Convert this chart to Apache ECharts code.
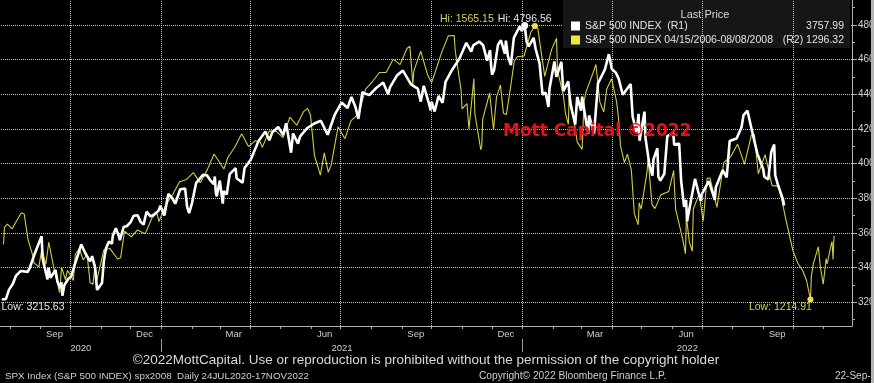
<!DOCTYPE html>
<html><head><meta charset="utf-8">
<script src="https://cdn.jsdelivr.net/npm/echarts@6/dist/echarts.min.js"></script>
<style>html,body{margin:0;padding:0;background:#000;overflow:hidden}#c{width:874px;height:383px}</style>
</head><body><div id="c"></div>
<script>
// ---------------- DATA ----------------
const WHITE_NAME = 'S&P 500 INDEX  (R1)';
const YELLOW_NAME = 'S&P 500 INDEX 04/15/2006-08/08/2008';

// S&P 500, 24 Jul 2020 - 22 Sep 2022 (R1)
const spxDates = [
'2020-07-24','2020-07-28','2020-07-31','2020-08-04','2020-08-07','2020-08-12','2020-08-14','2020-08-19','2020-08-21','2020-08-26',
'2020-08-28','2020-09-02','2020-09-03','2020-09-04','2020-09-08','2020-09-09','2020-09-11','2020-09-16','2020-09-18','2020-09-21',
'2020-09-22','2020-09-23','2020-09-25','2020-09-29','2020-10-02','2020-10-05','2020-10-09','2020-10-12','2020-10-16','2020-10-21',
'2020-10-23','2020-10-26','2020-10-28','2020-10-30','2020-11-02','2020-11-04','2020-11-06','2020-11-09','2020-11-12','2020-11-13',
'2020-11-16','2020-11-19','2020-11-20','2020-11-24','2020-11-27','2020-12-01','2020-12-04','2020-12-08','2020-12-11','2020-12-14',
'2020-12-17','2020-12-21','2020-12-24','2020-12-29','2020-12-31',
'2021-01-04','2021-01-08','2021-01-12','2021-01-15','2021-01-20','2021-01-25','2021-01-27','2021-01-29','2021-02-01','2021-02-05',
'2021-02-12','2021-02-16','2021-02-19','2021-02-23','2021-02-24','2021-02-25','2021-02-26','2021-03-01','2021-03-04','2021-03-05',
'2021-03-08','2021-03-11','2021-03-17','2021-03-18','2021-03-19','2021-03-24','2021-03-26','2021-04-01','2021-04-09','2021-04-16',
'2021-04-20','2021-04-23','2021-04-29','2021-05-04','2021-05-07','2021-05-12','2021-05-14','2021-05-19','2021-05-21','2021-05-28',
'2021-06-04','2021-06-11','2021-06-18','2021-06-25','2021-07-02','2021-07-08','2021-07-12','2021-07-16','2021-07-19','2021-07-23',
'2021-07-27','2021-07-30','2021-08-06','2021-08-13','2021-08-18','2021-08-20','2021-08-27','2021-09-02','2021-09-03','2021-09-10',
'2021-09-14','2021-09-17','2021-09-20','2021-09-23','2021-09-24','2021-09-28','2021-09-30','2021-10-01','2021-10-04','2021-10-08',
'2021-10-12','2021-10-15','2021-10-22','2021-10-29','2021-11-05','2021-11-10','2021-11-12','2021-11-18','2021-11-22','2021-11-26',
'2021-11-29','2021-11-30','2021-12-01','2021-12-03','2021-12-07','2021-12-10','2021-12-14','2021-12-15','2021-12-17','2021-12-20',
'2021-12-23','2021-12-29','2021-12-31',
'2022-01-03','2022-01-05','2022-01-07','2022-01-12','2022-01-14','2022-01-18','2022-01-21','2022-01-24','2022-01-27','2022-01-28',
'2022-02-02','2022-02-04','2022-02-09','2022-02-11','2022-02-16','2022-02-18','2022-02-23','2022-02-25','2022-03-01','2022-03-02',
'2022-03-08','2022-03-09','2022-03-14','2022-03-18','2022-03-25','2022-03-29','2022-04-01','2022-04-05','2022-04-08','2022-04-12',
'2022-04-14','2022-04-20','2022-04-22','2022-04-26','2022-04-28','2022-04-29','2022-05-04','2022-05-05','2022-05-09','2022-05-12',
'2022-05-13','2022-05-17','2022-05-18','2022-05-20','2022-05-24','2022-05-27','2022-06-02','2022-06-03','2022-06-08','2022-06-10',
'2022-06-13','2022-06-15','2022-06-16','2022-06-17','2022-06-24','2022-06-28','2022-06-30','2022-07-01','2022-07-08','2022-07-14',
'2022-07-15','2022-07-22','2022-07-26','2022-07-29','2022-08-05','2022-08-10','2022-08-12','2022-08-16','2022-08-19','2022-08-23',
'2022-08-26','2022-09-01','2022-09-02','2022-09-06','2022-09-09','2022-09-12','2022-09-13','2022-09-16','2022-09-21','2022-09-22'
];
const spxValues = [
3215.63,3218.44,3271.12,3306.51,3351.28,3380.35,3372.85,3374.85,3397.16,3478.73,
3508.01,3580.84,3455.06,3426.96,3331.84,3398.96,3340.97,3385.49,3319.47,3281.06,
3315.57,3236.92,3298.46,3335.47,3348.44,3408.60,3477.13,3534.22,3483.81,3435.56,
3465.39,3400.97,3271.03,3269.96,3310.24,3443.44,3509.44,3550.50,3537.01,3585.15,
3626.91,3581.87,3557.54,3635.41,3638.35,3662.45,3699.12,3702.25,3663.46,3647.49,
3722.48,3694.92,3703.06,3727.04,3756.07,
3700.65,3824.68,3801.19,3768.25,3851.85,3855.36,3750.77,3714.24,3773.86,3886.83,
3934.83,3932.59,3906.71,3881.37,3925.43,3829.34,3811.15,3901.82,3768.47,3841.94,
3821.35,3939.34,3974.12,3915.46,3913.10,3889.14,3974.54,4019.87,4128.80,4185.47,
4134.94,4180.17,4211.47,4164.66,4232.60,4063.04,4173.85,4115.68,4155.86,4204.11,
4229.89,4247.44,4166.45,4280.70,4352.34,4320.82,4384.63,4327.16,4258.49,4411.79,
4401.46,4395.26,4436.52,4468.00,4400.27,4441.67,4509.37,4536.95,4535.43,4458.58,
4443.05,4432.99,4357.73,4448.98,4455.48,4352.63,4307.54,4357.04,4300.46,4391.34,
4350.65,4471.37,4544.90,4605.38,4697.53,4646.71,4682.85,4704.54,4682.94,4594.62,
4655.27,4567.00,4513.04,4538.43,4686.75,4712.02,4634.09,4709.85,4620.64,4568.02,
4725.79,4793.06,4766.18,
4796.56,4700.58,4677.03,4726.35,4662.85,4577.11,4397.94,4410.13,4326.51,4431.85,
4589.38,4500.53,4587.18,4418.64,4475.01,4348.87,4225.50,4384.65,4306.26,4386.54,
4170.70,4277.88,4173.11,4463.12,4543.06,4631.60,4545.86,4525.12,4488.28,4397.45,
4392.59,4459.45,4271.78,4175.20,4287.50,4131.93,4300.17,4146.87,3991.24,3930.08,
4023.89,4088.85,3923.68,3901.36,3941.48,4158.24,4176.82,4108.54,4115.77,3900.86,
3749.63,3789.99,3666.77,3674.84,3911.74,3821.55,3785.38,3825.33,3899.38,3790.38,
3863.16,3961.63,3921.05,4130.29,4145.19,4210.24,4280.15,4305.20,4228.48,4128.73,
4057.66,3966.85,3924.26,3908.19,4067.36,4110.41,3932.69,3873.33,3789.93,3757.99
];

// S&P 500, 17 Apr 2006 - 08 Aug 2008 (R2, overlaid by trading day)
const spx2006Dates = [
'2006-04-17','2006-04-18','2006-04-21','2006-04-26','2006-04-28','2006-05-05','2006-05-08','2006-05-10','2006-05-12','2006-05-17',
'2006-05-18','2006-05-23','2006-05-26','2006-05-30','2006-06-02','2006-06-07','2006-06-13','2006-06-15','2006-06-19','2006-06-21',
'2006-06-27','2006-06-29','2006-07-03','2006-07-07','2006-07-11','2006-07-14','2006-07-17','2006-07-19','2006-07-21','2006-07-28',
'2006-08-03','2006-08-11','2006-08-14','2006-08-18','2006-08-25','2006-08-31','2006-09-08','2006-09-15','2006-09-20','2006-09-22',
'2006-09-29','2006-10-06','2006-10-13','2006-10-20','2006-10-27','2006-11-03','2006-11-10','2006-11-17','2006-11-27','2006-12-01',
'2006-12-08','2006-12-15','2006-12-22','2006-12-29',
'2007-01-03','2007-01-05','2007-01-12','2007-01-19','2007-01-26','2007-02-02','2007-02-09','2007-02-16','2007-02-20','2007-02-23',
'2007-02-27','2007-03-02','2007-03-05','2007-03-09','2007-03-13','2007-03-16','2007-03-23','2007-03-30','2007-04-05','2007-04-13',
'2007-04-20','2007-04-27','2007-05-04','2007-05-11','2007-05-18','2007-05-25','2007-06-01','2007-06-04','2007-06-07','2007-06-08',
'2007-06-15','2007-06-22','2007-06-26','2007-06-29','2007-07-06','2007-07-13','2007-07-19','2007-07-20','2007-07-26','2007-07-27',
'2007-08-01','2007-08-03','2007-08-08','2007-08-09','2007-08-15','2007-08-16','2007-08-17','2007-08-24','2007-08-28','2007-08-31',
'2007-09-04','2007-09-07','2007-09-10','2007-09-14','2007-09-18','2007-09-21','2007-09-28','2007-10-05','2007-10-09','2007-10-12',
'2007-10-19','2007-10-26','2007-10-31','2007-11-01','2007-11-07','2007-11-09','2007-11-12','2007-11-13','2007-11-16','2007-11-21',
'2007-11-26','2007-11-28','2007-11-30','2007-12-07','2007-12-10','2007-12-14','2007-12-18','2007-12-21','2007-12-26','2007-12-31',
'2008-01-02','2008-01-04','2008-01-08','2008-01-11','2008-01-15','2008-01-18','2008-01-22','2008-01-23','2008-01-25','2008-01-31',
'2008-02-01','2008-02-05','2008-02-08','2008-02-14','2008-02-22','2008-02-27','2008-02-29','2008-03-07','2008-03-10','2008-03-11',
'2008-03-14','2008-03-17','2008-03-18','2008-03-20','2008-03-24','2008-03-28','2008-04-01','2008-04-04','2008-04-11','2008-04-18',
'2008-04-25','2008-05-02','2008-05-09','2008-05-16','2008-05-19','2008-05-23','2008-05-30','2008-06-06','2008-06-13','2008-06-20',
'2008-06-27','2008-07-02','2008-07-03','2008-07-07','2008-07-11','2008-07-15','2008-07-16','2008-07-18','2008-07-23','2008-07-25',
'2008-07-28','2008-07-31','2008-08-01','2008-08-05','2008-08-06','2008-08-07','2008-08-08'
];
const spx2006Values = [
1285.33,1307.28,1311.28,1305.41,1310.61,1325.76,1324.66,1322.85,1291.24,1270.32,
1261.81,1256.58,1280.16,1259.87,1288.22,1256.15,1223.69,1256.16,1240.13,1252.20,
1239.20,1272.87,1280.19,1265.48,1272.43,1236.20,1234.49,1259.81,1240.29,1278.55,
1280.27,1266.74,1268.21,1302.30,1295.09,1303.82,1298.92,1319.66,1325.18,1314.78,
1335.85,1349.59,1365.62,1368.60,1377.34,1364.30,1380.90,1401.20,1381.96,1396.71,
1409.84,1427.09,1410.76,1418.30,
1416.60,1409.71,1430.73,1430.50,1422.18,1448.39,1438.06,1455.54,1459.68,1451.19,
1399.04,1387.17,1374.12,1402.84,1377.95,1386.95,1436.11,1420.86,1443.76,1452.85,
1484.35,1494.07,1505.62,1505.85,1522.75,1515.73,1536.34,1539.18,1490.72,1507.67,
1532.91,1502.56,1492.89,1503.35,1530.44,1552.50,1553.08,1534.10,1482.66,1458.95,
1465.81,1433.06,1497.49,1453.09,1406.70,1411.27,1445.94,1479.37,1432.36,1473.99,
1489.42,1453.55,1451.70,1484.25,1519.78,1525.75,1526.75,1557.59,1565.15,1561.80,
1500.63,1535.28,1549.38,1508.44,1475.62,1453.70,1439.18,1481.05,1458.74,1416.77,
1407.22,1469.02,1481.14,1504.66,1515.96,1467.95,1454.98,1484.46,1497.66,1468.36,
1447.16,1411.63,1390.19,1401.02,1380.95,1325.19,1310.50,1338.60,1330.61,1378.55,
1395.42,1336.64,1331.29,1348.86,1353.11,1380.02,1330.63,1293.37,1273.37,1320.65,
1288.14,1276.60,1330.74,1329.51,1349.88,1315.22,1370.18,1370.40,1332.83,1390.33,
1397.84,1413.90,1388.28,1425.35,1426.63,1375.93,1400.38,1360.68,1360.03,1317.93,
1278.38,1261.52,1262.90,1252.31,1239.49,1214.91,1245.36,1260.68,1282.19,1257.76,
1234.37,1267.38,1260.31,1284.88,1289.19,1266.07,1296.32
];

// axis ticks / labels
const rightAxisLabels = [3200, 3400, 3600, 3800, 4000, 4200, 4400, 4600, 4800];
const rightMinorTicks = [3100, 3300, 3500, 3700, 3900, 4100, 4300, 4500, 4700, 4900];
const monthLabelDates = ['2020-09-15','2020-12-15','2021-03-15','2021-06-15','2021-09-15','2021-12-15','2022-03-15','2022-06-15','2022-09-15'];
const quarterGridDates = ['2020-10-01','2021-01-01','2021-04-01','2021-07-01','2021-10-01','2022-01-01','2022-04-01','2022-07-01','2022-10-01'];
const monthTickDates = ['2020-08-01','2020-09-01','2020-10-01','2020-11-01','2020-12-01','2021-01-01','2021-02-01','2021-03-01','2021-04-01',
  '2021-05-01','2021-06-01','2021-07-01','2021-08-01','2021-09-01','2021-10-01','2021-11-01','2021-12-01','2022-01-01','2022-02-01',
  '2022-03-01','2022-04-01','2022-05-01','2022-06-01','2022-07-01','2022-08-01','2022-09-01','2022-10-01','2022-11-01'];
const yearStartDates = ['2021-01-01','2022-01-01'];
const MONTHS = ['Jan','Feb','Mar','Apr','May','Jun','Jul','Aug','Sep','Oct','Nov','Dec'];

// ---------------- BUILD ----------------
const DAY = 86400000;
function ts(s) { const p = s.split('-').map(Number); return new Date(p[0], p[1] - 1, p[2]).getTime(); }

const START_2020 = ts('2020-07-24');
const START_2006 = ts('2006-04-17');
const OVERLAY_SCALE = 0.994, OVERLAY_SHIFT = 1.5 * DAY;

const whiteData = spxDates.map((d, i) => [ts(d), spxValues[i]]);
const yellowData = spx2006Dates.map((d, i) => [START_2020 + OVERLAY_SHIFT + (ts(d) - START_2006) * OVERLAY_SCALE, spx2006Values[i]]);

const X_MIN = START_2020 - 2.02 * DAY;
const X_MAX = X_MIN + 860.6 * DAY;
const Y_MIN = 3062.4, Y_MAX = 4944.5;      // R1 scale
const Y2_MIN = 1180.9, Y2_MAX = 1598.5;    // R2 scale

const y1s = ts(yearStartDates[0]), y2s = ts(yearStartDates[1]);
const yearLabelPos = [(X_MIN + y1s) / 2, (y1s + y2s) / 2, (y2s + X_MAX) / 2];

const lastWhite = spxValues[spxValues.length - 1];
const lastYellow = spx2006Values[spx2006Values.length - 1];
const legendValue = {};
legendValue[WHITE_NAME] = lastWhite.toFixed(2);
legendValue[YELLOW_NAME] = '(R2) ' + lastYellow.toFixed(2);

const FONT = 'Liberation Sans';
const GRID_LINE = { color: '#c8c8c8', type: 'dotted', width: 1, opacity: 1 };
const AXIS_COLOR = '#b0b0b0';

const chart = echarts.init(document.getElementById('c'), null, { renderer: 'canvas' });
chart.setOption({
  backgroundColor: '#000',
  animation: false,
  grid: { left: 0, right: 22, top: 0, bottom: 57, containLabel: false, outerBoundsMode: 'none' },
  xAxis: [
    { type: 'value', min: X_MIN, max: X_MAX, position: 'bottom',
      axisLine: { show: true, onZero: false, lineStyle: { color: AXIS_COLOR } },
      axisTick: { show: true, length: 3, customValues: monthTickDates.map(ts), lineStyle: { color: AXIS_COLOR } },
      axisLabel: { customValues: monthLabelDates.map(ts), formatter: v => MONTHS[new Date(v).getMonth()],
        color: '#cfcfcf', fontSize: 9.5, fontFamily: FONT, margin: 3 },
      splitLine: { show: false } },
    { type: 'value', min: X_MIN, max: X_MAX, position: 'bottom', offset: 13,
      axisLine: { show: false, onZero: false },
      axisTick: { show: true, length: 13, customValues: yearStartDates.map(ts), lineStyle: { color: '#9a9a9a' } },
      axisLabel: { customValues: yearLabelPos, formatter: v => String(new Date(v).getFullYear()),
        color: '#cfcfcf', fontSize: 9.5, fontFamily: FONT, margin: 4 },
      splitLine: { show: false } }
  ],
  yAxis: [
    { type: 'value', position: 'right', min: Y_MIN, max: Y_MAX,
      axisLine: { show: true, onZero: false, lineStyle: { color: AXIS_COLOR } },
      axisTick: { show: true, length: 5, customValues: rightAxisLabels, lineStyle: { color: AXIS_COLOR } },
      axisLabel: { customValues: rightAxisLabels, formatter: v => String(v), color: '#d4d4d4',
        fontSize: 10, fontFamily: FONT, margin: 6 },
      splitLine: { show: false } },
    { type: 'value', position: 'right', min: Y_MIN, max: Y_MAX,
      axisLine: { show: false, onZero: false },
      axisTick: { show: true, length: 3, customValues: rightMinorTicks, lineStyle: { color: AXIS_COLOR } },
      axisLabel: { show: false }, splitLine: { show: false } },
    { type: 'value', min: Y2_MIN, max: Y2_MAX, show: false, splitLine: { show: false } },
    { type: 'value', position: 'right', min: Y_MIN, max: Y_MAX,
      axisLine: { show: false, onZero: false },
      axisTick: { show: true, inside: true, length: 852, customValues: rightAxisLabels, lineStyle: GRID_LINE },
      axisLabel: { show: false }, splitLine: { show: false } }
  ],
  legend: {
    orient: 'vertical', left: 571, top: 20, itemWidth: 9, itemHeight: 9, itemGap: 2, padding: 0,
    icon: 'rect', selectedMode: false, z: 6,
    data: [ { name: WHITE_NAME, itemStyle: { color: '#ffffff' } },
            { name: YELLOW_NAME, itemStyle: { color: '#eee63c' } } ],
    formatter: name => '{n|' + name + '}{v|' + legendValue[name] + '}',
    textStyle: { color: '#e2e2e2', fontSize: 10.5, fontFamily: FONT, lineHeight: 12,
      rich: { n: { width: 188, color: '#e2e2e2', fontSize: 10.5, fontFamily: FONT },
              v: { width: 71, align: 'right', color: '#e2e2e2', fontSize: 10.5, fontFamily: FONT } } }
  },
  graphic: { elements: [
    { type: 'rect', z: 5, shape: { x: 563, y: -2, width: 287, height: 50 }, style: { fill: '#161616' } },
    { type: 'text', z: 6, x: 705, y: 15, style: { text: 'Last Price', fill: '#d6d6d6', font: '11px "Liberation Sans"', align: 'center', verticalAlign: 'middle' } },
    { type: 'text', z: 20, x: 503, y: 132, style: { text: 'Mott Capital \u00a92022', fill: '#e3121c', font: 'bold 17px "DejaVu Sans"', verticalAlign: 'middle' } },
    { type: 'text', z: 6, x: 426, y: 360.5, style: { text: '\u00a92022MottCapital. Use or reproduction is prohibited without the permission of the copyright holder', fill: '#dadada', font: '13.5px "Liberation Sans"', align: 'center', verticalAlign: 'middle' } },
    { type: 'text', z: 6, x: 5, y: 376, style: { text: 'SPX Index (S&P 500 INDEX) spx2008  Daily 24JUL2020-17NOV2022', fill: '#cfcfcf', font: '9.8px "Liberation Sans"', verticalAlign: 'middle' } },
    { type: 'text', z: 6, x: 479, y: 376, style: { text: 'Copyright\u00a9 2022 Bloomberg Finance L.P.', fill: '#cfcfcf', font: '10.2px "Liberation Sans"', verticalAlign: 'middle' } },
    { type: 'text', z: 6, x: 835, y: 376, style: { text: '22-Sep-2022', fill: '#cfcfcf', font: '10px "Liberation Sans"', verticalAlign: 'middle' } },
    { type: 'rect', z: 30, shape: { x: 871, y: 0, width: 3, height: 383 }, style: { fill: '#b4b4b4' } }
  ] },
  series: [
    { type: 'line', name: 'grid', xAxisIndex: 0, yAxisIndex: 0, data: whiteData, z: 1, silent: true,
      symbol: 'none', lineStyle: { opacity: 0 },
      markLine: { silent: true, symbol: 'none', label: { show: false }, lineStyle: GRID_LINE,
        data: quarterGridDates.map(d => ({ xAxis: ts(d) })) } },
    { type: 'line', name: YELLOW_NAME, xAxisIndex: 0, yAxisIndex: 2, data: yellowData, z: 2,
      symbol: 'none', lineStyle: { color: '#d2cc46', width: 1.1 }, itemStyle: { color: '#eee63c' },
      markPoint: { symbol: 'circle', symbolSize: 6, itemStyle: { color: '#ece43c' },
        label: { color: '#d6d060', fontSize: 10.5, fontFamily: FONT },
        data: [
          { type: 'max', valueDim: 'y', label: { position: 'inside', offset: [-68, -7], formatter: p => 'Hi: ' + Number(p.value).toFixed(2) } },
          { type: 'min', valueDim: 'y', label: { position: 'inside', offset: [-30, 8], formatter: p => 'Low: ' + Number(p.value).toFixed(2) } }
        ] } },
    { type: 'line', name: WHITE_NAME, xAxisIndex: 0, yAxisIndex: 0, data: whiteData, z: 3,
      symbol: 'none', lineStyle: { color: '#ffffff', width: 2.6 }, itemStyle: { color: '#ffffff' },
      markPoint: { symbol: 'circle', symbolSize: 7, itemStyle: { color: '#ffffff' },
        label: { color: '#e4e4e4', fontSize: 10.5, fontFamily: FONT },
        data: [
          { type: 'max', valueDim: 'y', label: { position: 'inside', offset: [0, -7], formatter: p => 'Hi: ' + Number(p.value).toFixed(2) } },
          { type: 'min', valueDim: 'y', symbolSize: 1, label: { position: 'inside', offset: [31, 8], formatter: p => 'Low: ' + Number(p.value).toFixed(2) } }
        ] },
      markLine: { silent: true, symbol: 'none', lineStyle: { opacity: 0 },
        data: [ { yAxis: lastWhite } ],
        label: { position: 'end', distance: 1, formatter: p => Number(p.value).toFixed(2),
          backgroundColor: '#ffffff', color: '#000', fontSize: 10, fontFamily: FONT, padding: [1, 3], borderRadius: 3 } } }
  ]
});
</script>
</body></html>
